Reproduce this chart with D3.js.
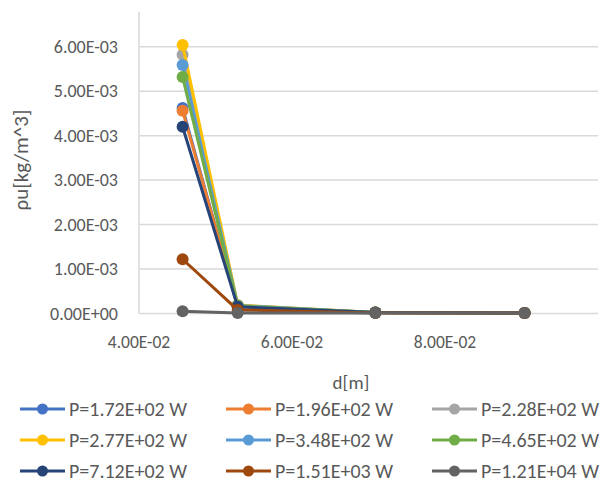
<!DOCTYPE html>
<html lang="en">
  <head>
    <meta charset="UTF-8" />
    <title>rho u vs d</title>
    <script src="https://cdn.jsdelivr.net/npm/d3@7/dist/d3.min.js"></script>
    <style>
      body { margin: 0; background: #fff; }
      text { font-family: Carlito, Lato, "Liberation Sans", sans-serif; fill: #595959; }
    </style>
  </head>
  <body>
    <div id="wrapper"></div>
    <script>
      const distances = [0.0457, 0.0529, 0.0709, 0.0904];
      const seriesNames = [
        "P=1.72E+02 W", "P=1.96E+02 W", "P=2.28E+02 W",
        "P=2.77E+02 W", "P=3.48E+02 W", "P=4.65E+02 W",
        "P=7.12E+02 W", "P=1.51E+03 W", "P=1.21E+04 W",
      ];
      const seriesColors = [
        "#4472C4", "#ED7D31", "#A5A5A5",
        "#FFC000", "#5B9BD5", "#70AD47",
        "#264478", "#9E480E", "#636363",
      ];
      const p172 = [0.00462, 0.00015, 0.00002, 0.00001];
      const p196 = [0.00456, 0.00016, 0.00002, 0.00001];
      const p228 = [0.00582, 0.00018, 0.00002, 0.00001];
      const p277 = [0.00604, 0.00019, 0.00002, 0.00001];
      const p348 = [0.00559, 0.00018, 0.00002, 0.00001];
      const p465 = [0.00532, 0.00017, 0.00002, 0.00001];
      const p712 = [0.00420, 0.00015, 0.00002, 0.00001];
      const p1510 = [0.00122, 0.00008, 0.00001, 0.00001];
      const p12100 = [0.00005, 0.00001, 0.00001, 0.00001];
      const seriesValues = [p172, p196, p228, p277, p348, p465, p712, p1510, p12100];
      const xTicks = [0.04, 0.06, 0.08];
      const yTicks = [0, 0.001, 0.002, 0.003, 0.004, 0.005, 0.006];

      const width = 609, height = 487;
      const svg = d3.select("#wrapper").append("svg")
        .attr("width", width).attr("height", height);

      const xScale = d3.scaleLinear().domain([0.04, 0.1]).range([139, 598]);
      const yScale = d3.scaleLinear().domain([0, 0.006]).range([313.5, 46.7]);
      const plotTop = 11.7;

      // gridlines
      svg.append("g").selectAll("line").data(yTicks).join("line")
        .attr("x1", xScale(0.04)).attr("x2", xScale(0.1))
        .attr("y1", d => yScale(d)).attr("y2", d => yScale(d))
        .attr("stroke", "#d9d9d9").attr("stroke-width", 1.5);
      // vertical axis line
      svg.append("line")
        .attr("x1", xScale(0.04)).attr("x2", xScale(0.04))
        .attr("y1", plotTop).attr("y2", yScale(0))
        .attr("stroke", "#d9d9d9").attr("stroke-width", 1.5);

      const fmtExp = d => {
        const s = d3.format(".2e")(d).toUpperCase();
        return s.replace(/E([+-])(\d)$/, "E$10$2");
      };

      svg.append("g").selectAll("text").data(yTicks).join("text")
        .attr("x", 118).attr("y", d => yScale(d))
        .attr("dy", "0.35em").attr("text-anchor", "end")
        .attr("font-size", 18).text(fmtExp);
      svg.append("g").selectAll("text").data(xTicks).join("text")
        .attr("x", d => xScale(d)).attr("y", 342)
        .attr("dy", "0.35em").attr("text-anchor", "middle")
        .attr("font-size", 17.5).text(fmtExp);

      svg.append("text").attr("x", 351).attr("y", 382)
        .attr("text-anchor", "middle").attr("dy", "0.35em")
        .attr("font-size", 19).text("d[m]");
      svg.append("text")
        .attr("transform", "translate(21,160) rotate(-90)")
        .attr("text-anchor", "middle").attr("dy", "0.35em")
        .attr("font-size", 21).text("ρu[kg/m^3]");

      const line = d3.line().x((d, i) => xScale(distances[i])).y(d => yScale(d));
      const series = seriesValues.map((vals, k) => ({ vals, color: seriesColors[k], name: seriesNames[k] }));
      const g = svg.append("g");
      series.forEach(s => {
        g.append("path").datum(s.vals).attr("d", line)
          .attr("fill", "none").attr("stroke", s.color).attr("stroke-width", 3);
        g.selectAll(null).data(s.vals).join("circle")
          .attr("cx", (d, i) => xScale(distances[i])).attr("cy", d => yScale(d))
          .attr("r", 6).attr("fill", s.color);
      });

      // legend
      const colX = [20, 226, 432];
      const rowY = [409, 440, 471];
      const leg = svg.append("g");
      series.forEach((s, k) => {
        const x = colX[k % 3], y = rowY[Math.floor(k / 3)];
        leg.append("line").attr("x1", x).attr("x2", x + 45).attr("y1", y).attr("y2", y)
          .attr("stroke", s.color).attr("stroke-width", 3);
        leg.append("circle").attr("cx", x + 22.5).attr("cy", y).attr("r", 5.5).attr("fill", s.color);
        leg.append("text").attr("x", x + 49).attr("y", y).attr("dy", "0.35em")
          .attr("font-size", 20).text(s.name);
      });
    </script>
  </body>
</html>
